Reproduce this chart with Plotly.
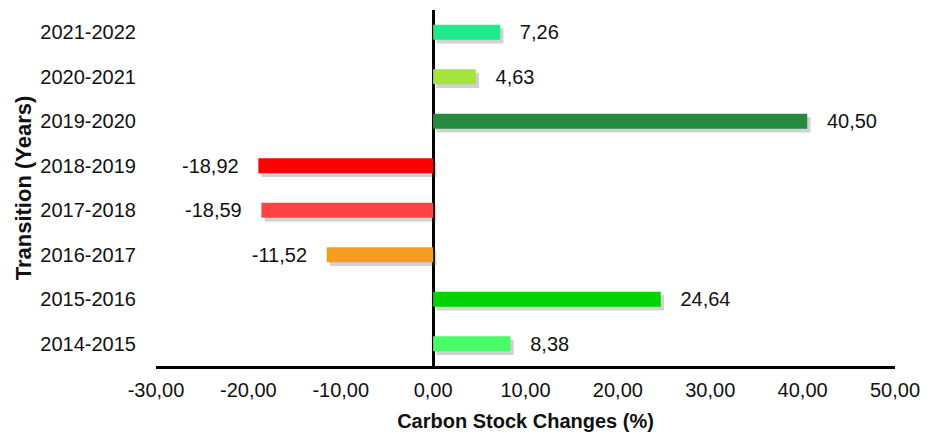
import plotly.graph_objects as go

categories = ["2014-2015", "2015-2016", "2016-2017", "2017-2018",
              "2018-2019", "2019-2020", "2020-2021", "2021-2022"]
values = [8.38, 24.64, -11.52, -18.59, -18.92, 40.50, 4.63, 7.26]
colors = ["#48FD68", "#00D400", "#F59E1E", "#FF4343",
          "#FF0000", "#268A3E", "#A5E43C", "#1DEB8B"]
tick_vals = [-30, -20, -10, 0, 10, 20, 30, 40, 50]
tick_text = ["-30,00", "-20,00", "-10,00", "0,00", "10,00",
             "20,00", "30,00", "40,00", "50,00"]

labels = []
for v in values:
    s = f"{v:.2f}".replace(".", ",")
    labels.append(("\u00a0\u00a0\u00a0" + s) if v >= 0 else (s + "\u00a0\u00a0\u00a0"))

FONT = "Liberation Sans, Arial, sans-serif"
FS = 20
BW = 0.34

fig = go.Figure()
# soft drop shadow
fig.add_trace(go.Bar(
    y=categories, x=values, base=0.35, orientation="h",
    width=BW, offset=-BW / 2 - 0.08,
    marker=dict(color="rgba(90,90,90,0.28)", line=dict(width=0)),
    hoverinfo="skip", showlegend=False,
))
fig.add_trace(go.Bar(
    y=categories, x=values, orientation="h",
    width=BW, offset=-BW / 2,
    marker=dict(color=colors, line=dict(width=0)),
    text=labels, textposition="outside", cliponaxis=False,
    constraintext="none",
    textfont=dict(family=FONT, size=FS, color="#111111"),
    showlegend=False,
))

fig.update_layout(
    width=929, height=434,
    margin=dict(l=156, r=34, t=10, b=68, autoexpand=False),
    paper_bgcolor="white", plot_bgcolor="white",
    barmode="overlay",
    font=dict(family=FONT, size=FS, color="#111111"),
    xaxis=dict(
        range=[-30, 50], tickvals=tick_vals, ticktext=tick_text,
        showgrid=False, zeroline=True, zerolinecolor="black", zerolinewidth=3,
        showline=True, linecolor="black", linewidth=3,
        ticks="", ticklabelstandoff=4, automargin=False,
        title=dict(text="<b>Carbon Stock Changes (%)</b>", standoff=14,
                   font=dict(family=FONT, size=FS, color="#111111")),
    ),
    yaxis=dict(
        categoryorder="array", categoryarray=categories,
        showgrid=False, showline=False, ticks="", ticklabelstandoff=19,
        automargin=False,
        title=dict(text="<b>Transition (Years)</b>", standoff=2,
                   font=dict(family=FONT, size=22, color="#111111")),
    ),
)

fig.write_html("out.html", config={"displayModeBar": False},
               post_script="document.body.style.margin='0';")
